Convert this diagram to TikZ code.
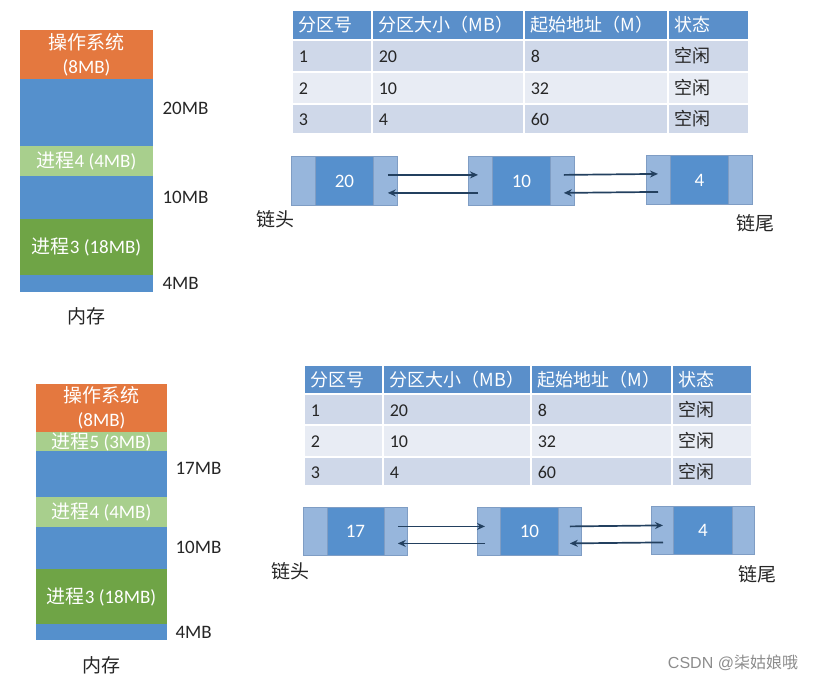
\documentclass[tikz,border=0pt]{standalone}
\usepackage{fontspec}
\setmainfont{Carlito}
\newfontfamily\cjk{Noto Sans CJK SC}
\newfontfamily\wmfont{Liberation Sans}
\usepackage{xcolor}
\usetikzlibrary{arrows.meta,positioning}

\definecolor{osorange}{HTML}{E4783F}
\definecolor{memblue}{HTML}{5590CC}
\definecolor{lgreen}{HTML}{A8CF8D}
\definecolor{dgreen}{HTML}{6FA446}
\definecolor{headblue}{HTML}{5A8FCA}
\definecolor{rowA}{HTML}{CFD8E9}
\definecolor{rowB}{HTML}{E8ECF4}
\definecolor{listlight}{HTML}{97B6DC}
\definecolor{listdark}{HTML}{5690CD}
\definecolor{listedge}{HTML}{7F9DC4}
\definecolor{arrowc}{HTML}{23405F}
\definecolor{tabtext}{HTML}{262626}

\begin{document}
\begin{tikzpicture}[x=1pt, y=-1pt,
    blk/.style={anchor=north west, inner sep=0pt, outer sep=0pt, text=white, font=\fontsize{19}{24}\selectfont},
    cell/.style={anchor=north west, draw=white, line width=1.5pt, inner xsep=7pt, inner ysep=0pt, align=left,
                 text height=16pt, text depth=2pt, font=\fontsize{18}{22}\selectfont, text=tabtext},
    hcell/.style={cell, fill=headblue, text=white},
    lbox/.style={anchor=north west, fill=listlight, draw=listedge, line width=0.8pt, inner sep=0pt},
    ibox/.style={fill=listdark, draw=listedge, line width=0.6pt, inner sep=0pt, text=white, font=\fontsize{19}{22}\selectfont},
    arr/.style={-{Stealth[length=8pt,width=7pt]}, draw=arrowc, line width=1.7pt},
    lab/.style={font=\fontsize{19}{22}\selectfont, text=tabtext}]
    \useasboundingbox (0,0) rectangle (817,681);

    % Memory (top)
    \node[blk, fill=osorange, minimum width=133pt, minimum height=49pt, align=center] (osA) at (20,30) {{\cjk 操作系统}\\(8MB)};
    \node[blk, fill=memblue, minimum width=133pt, minimum height=67pt] (fA1) at (20,79) {};
    \node[blk, fill=lgreen, minimum width=133pt, minimum height=30pt] (p4A) at (20,146) {{\cjk 进程}4 (4MB)};
    \node[blk, fill=memblue, minimum width=133pt, minimum height=43pt] (fA2) at (20,176) {};
    \node[blk, fill=dgreen, minimum width=133pt, minimum height=56pt] (p3A) at (20,219) {{\cjk 进程}3 (18MB)};
    \node[blk, fill=memblue, minimum width=133pt, minimum height=17pt] (fA3) at (20,275) {};
    \node[lab, anchor=west] (szA1) at (159,108) {20MB};
    \node[lab, anchor=west] (szA2) at (159,197) {10MB};
    \node[lab, anchor=west] (szA3) at (159,283) {4MB};
    \node[lab] (memA) at (86,316) {\cjk 内存};

    % Partition table (top)
    \node[hcell, text width=66pt, minimum height=30pt] (hA1) at (291,9) {\cjk 分区号};
    \node[hcell, text width=138pt, minimum height=30pt] (hA2) at (371,9) {\cjk 分区大小（MB）};
    \node[hcell, text width=130pt, minimum height=30pt] (hA3) at (523,9) {\cjk 起始地址（M）};
    \node[hcell, text width=67pt, minimum height=30pt] (hA4) at (667,9) {\cjk 状态};
    \foreach \r/\sz/\ad/\yy/\hh/\fc in {1/20/8/39/32/rowA, 2/10/32/71/32/rowB, 3/4/60/103/30/rowA}{
        \node[cell, fill=\fc, text width=66pt, minimum height=\hh pt] (tA\r1) at (291,\yy) {\r};
        \node[cell, fill=\fc, text width=138pt, minimum height=\hh pt] (tA\r2) at (371,\yy) {\sz};
        \node[cell, fill=\fc, text width=130pt, minimum height=\hh pt] (tA\r3) at (523,\yy) {\ad};
        \node[cell, fill=\fc, text width=67pt, minimum height=\hh pt] (tA\r4) at (667,\yy) {\cjk 空闲};
    }

    % Free list (top)
    \node[lbox, minimum width=106pt, minimum height=49pt] (bA1) at (291,156) {};
    \node[ibox, minimum width=58pt, minimum height=49pt] (nA1) at (bA1.center) {20};
    \node[lbox, minimum width=106pt, minimum height=49pt] (bA2) at (468,156) {};
    \node[ibox, minimum width=58pt, minimum height=49pt] (nA2) at (bA2.center) {10};
    \node[lbox, minimum width=106pt, minimum height=49pt] (bA3) at (646,155) {};
    \node[ibox, minimum width=58pt, minimum height=49pt] (nA3) at (bA3.center) {4};
    \draw[arr] ([xshift=-10pt,yshift=6pt]bA1.east) -- ([xshift=10pt,yshift=6pt]bA2.west);
    \draw[arr] ([xshift=10pt,yshift=-12pt]bA2.west) -- ([xshift=-10pt,yshift=-12pt]bA1.east);
    \draw[arr] ([xshift=-11pt,yshift=6pt]bA2.east) -- ([xshift=12pt,yshift=6pt]bA3.west);
    \draw[arr] ([xshift=12pt,yshift=-12pt]bA3.west) -- ([xshift=-11pt,yshift=-12pt]bA2.east);
    \node[lab] (headA) at ([xshift=-16pt,yshift=-13pt]bA1.south west) {\cjk 链头};
    \node[lab] (tailA) at ([xshift=3pt,yshift=-18pt]bA3.south east) {\cjk 链尾};

    % Memory (bottom)
    \node[blk, fill=osorange, minimum width=131pt, minimum height=48pt, align=center] (osB) at (36,384) {{\cjk 操作系统}\\(8MB)};
    \node[blk, fill=lgreen, minimum width=131pt, minimum height=19pt] (p5B) at (36,432) {{\cjk 进程}5 (3MB)};
    \node[blk, fill=memblue, minimum width=131pt, minimum height=46pt] (fB1) at (36,451) {};
    \node[blk, fill=lgreen, minimum width=131pt, minimum height=30pt] (p4B) at (36,497) {{\cjk 进程}4 (4MB)};
    \node[blk, fill=memblue, minimum width=131pt, minimum height=42pt] (fB2) at (36,527) {};
    \node[blk, fill=dgreen, minimum width=131pt, minimum height=55pt] (p3B) at (36,569) {{\cjk 进程}3 (18MB)};
    \node[blk, fill=memblue, minimum width=131pt, minimum height=16pt] (fB3) at (36,624) {};
    \node[lab, anchor=west] (szB1) at (172,468) {17MB};
    \node[lab, anchor=west] (szB2) at (172,547) {10MB};
    \node[lab, anchor=west] (szB3) at (172,632) {4MB};
    \node[lab] (memB) at (101,665) {\cjk 内存};

    % Partition table (bottom)
    \node[hcell, text width=65pt, minimum height=29pt] (hB1) at (303,364) {\cjk 分区号};
    \node[hcell, text width=134pt, minimum height=29pt] (hB2) at (382,364) {\cjk 分区大小（MB）};
    \node[hcell, text width=127pt, minimum height=29pt] (hB3) at (530,364) {\cjk 起始地址（M）};
    \node[hcell, text width=66pt, minimum height=29pt] (hB4) at (671,364) {\cjk 状态};
    \foreach \r/\sz/\ad/\yy/\hh/\fc in {1/20/8/393/31/rowA, 2/10/32/424/32/rowB, 3/4/60/456/29/rowA}{
        \node[cell, fill=\fc, text width=65pt, minimum height=\hh pt] (tB\r1) at (303,\yy) {\r};
        \node[cell, fill=\fc, text width=134pt, minimum height=\hh pt] (tB\r2) at (382,\yy) {\sz};
        \node[cell, fill=\fc, text width=127pt, minimum height=\hh pt] (tB\r3) at (530,\yy) {\ad};
        \node[cell, fill=\fc, text width=66pt, minimum height=\hh pt] (tB\r4) at (671,\yy) {\cjk 空闲};
    }

    % Free list (bottom)
    \node[lbox, minimum width=104pt, minimum height=48pt] (bB1) at (303,507) {};
    \node[ibox, minimum width=57pt, minimum height=48pt] (nB1) at (bB1.center) {17};
    \node[lbox, minimum width=104pt, minimum height=48pt] (bB2) at (477,507) {};
    \node[ibox, minimum width=58pt, minimum height=48pt] (nB2) at (bB2.center) {10};
    \node[lbox, minimum width=103pt, minimum height=48pt] (bB3) at (651,506) {};
    \node[ibox, minimum width=59pt, minimum height=48pt] (nB3) at (bB3.center) {4};
    \draw[arr] ([xshift=-10pt,yshift=5pt]bB1.east) -- ([xshift=8pt,yshift=5pt]bB2.west);
    \draw[arr] ([xshift=8pt,yshift=-12pt]bB2.west) -- ([xshift=-10pt,yshift=-12pt]bB1.east);
    \draw[arr] ([xshift=-12pt,yshift=5pt]bB2.east) -- ([xshift=12pt,yshift=5pt]bB3.west);
    \draw[arr] ([xshift=12pt,yshift=-12pt]bB3.west) -- ([xshift=-12pt,yshift=-12pt]bB2.east);
    \node[lab] (headB) at ([xshift=-13pt,yshift=-15pt]bB1.south west) {\cjk 链头};
    \node[lab] (tailB) at ([xshift=3pt,yshift=-19pt]bB3.south east) {\cjk 链尾};

    % Watermark
    \node[text=black!45, font=\fontsize{16}{18}\selectfont] (wm) at (733,663) {{\wmfont CSDN @}{\cjk 柒姑娘哦}};
\end{tikzpicture}
\end{document}
